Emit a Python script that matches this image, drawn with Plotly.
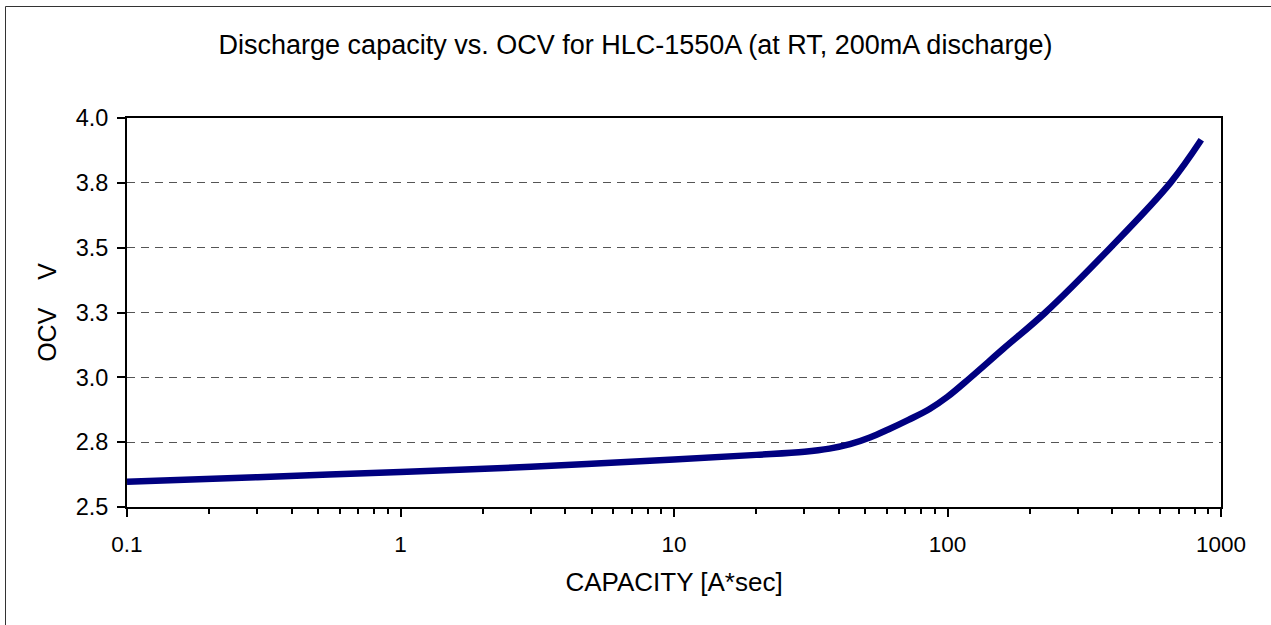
import plotly.graph_objects as go

# Data
capacity = [0.1, 0.3, 1, 3, 10, 20, 30, 37, 44, 52, 61, 72, 86, 100, 121, 160, 228, 394, 653, 847]
ocv = [2.597, 2.615, 2.635, 2.655, 2.683, 2.701, 2.713, 2.725, 2.742, 2.768, 2.800, 2.836, 2.878, 2.925,
       2.998, 3.11, 3.25, 3.5, 3.75, 3.916]

x_tickvals = [0.1, 1, 10, 100, 1000]
x_ticktext = ["0.1", "1", "10", "100", "1000"]
y_tickvals = [2.5, 2.75, 3.0, 3.25, 3.5, 3.75, 4.0]
y_ticktext = ["2.5", "2.8", "3.0", "3.3", "3.5", "3.8", "4.0"]
x_minor = [m * 10 ** e for e in (-1, 0, 1, 2) for m in range(2, 10)]

FONT = "Liberation Sans, Arial, sans-serif"

W, H = 1271, 625
L, R, T, B = 127, 50, 118, 118
PW, PH = W - L - R, H - T - B

fig = go.Figure()
fig.add_trace(go.Scatter(
    x=capacity, y=ocv, mode="lines",
    line=dict(color="#000080", width=6.5, shape="spline", smoothing=1.0),
    showlegend=False, hoverinfo="x+y",
))

fig.update_layout(
    width=W, height=H,
    margin=dict(l=L, r=R, t=T, b=B),
    paper_bgcolor="white", plot_bgcolor="white",
    font=dict(family=FONT, color="black", size=24),
    title=dict(text="Discharge capacity vs. OCV for HLC-1550A (at RT, 200mA discharge)",
               x=0.5, xanchor="center", y=1 - 45 / H, yanchor="middle",
               font=dict(family=FONT, size=27, color="black")),
    shapes=[dict(type="rect", xref="paper", yref="paper",
                 x0=(5.5 - L) / PW, x1=(W + 20 - L) / PW,
                 y0=-(B + 20) / PH, y1=1 + (T - 6.5) / PH,
                 line=dict(color="#333333", width=1), layer="below")],
)

fig.update_xaxes(
    type="log", range=[-1, 3],
    tickvals=x_tickvals, ticktext=x_ticktext,
    ticks="outside", ticklen=8, tickwidth=2, tickcolor="black",
    minor=dict(tickvals=x_minor, ticks="outside", ticklen=5, tickwidth=1.5, tickcolor="black", showgrid=False),
    showline=True, linecolor="black", linewidth=2, mirror=True,
    showgrid=False, zeroline=False,
    tickfont=dict(family=FONT, size=22.5, color="black"),
    ticklabelstandoff=8,
    title=dict(text="CAPACITY [A*sec]", font=dict(family=FONT, size=26, color="black"), standoff=17),
)

fig.update_yaxes(
    range=[2.5, 4.0],
    tickvals=y_tickvals, ticktext=y_ticktext,
    ticks="outside", ticklen=8, tickwidth=1.5, tickcolor="black",
    showline=True, linecolor="black", linewidth=2, mirror=True,
    showgrid=True, gridcolor="#555555", gridwidth=1, griddash="8px,6px",
    zeroline=False,
    tickfont=dict(family=FONT, size=23.5, color="black"),
    ticklabelstandoff=4,
    title=dict(text="OCV\u00a0\u00a0\u00a0\u00a0V", font=dict(family=FONT, size=25, color="black"), standoff=12),
)

fig.write_html("out.html", config={"displayModeBar": False},
               post_script="document.body.style.margin='0';document.body.style.overflow='hidden';")
